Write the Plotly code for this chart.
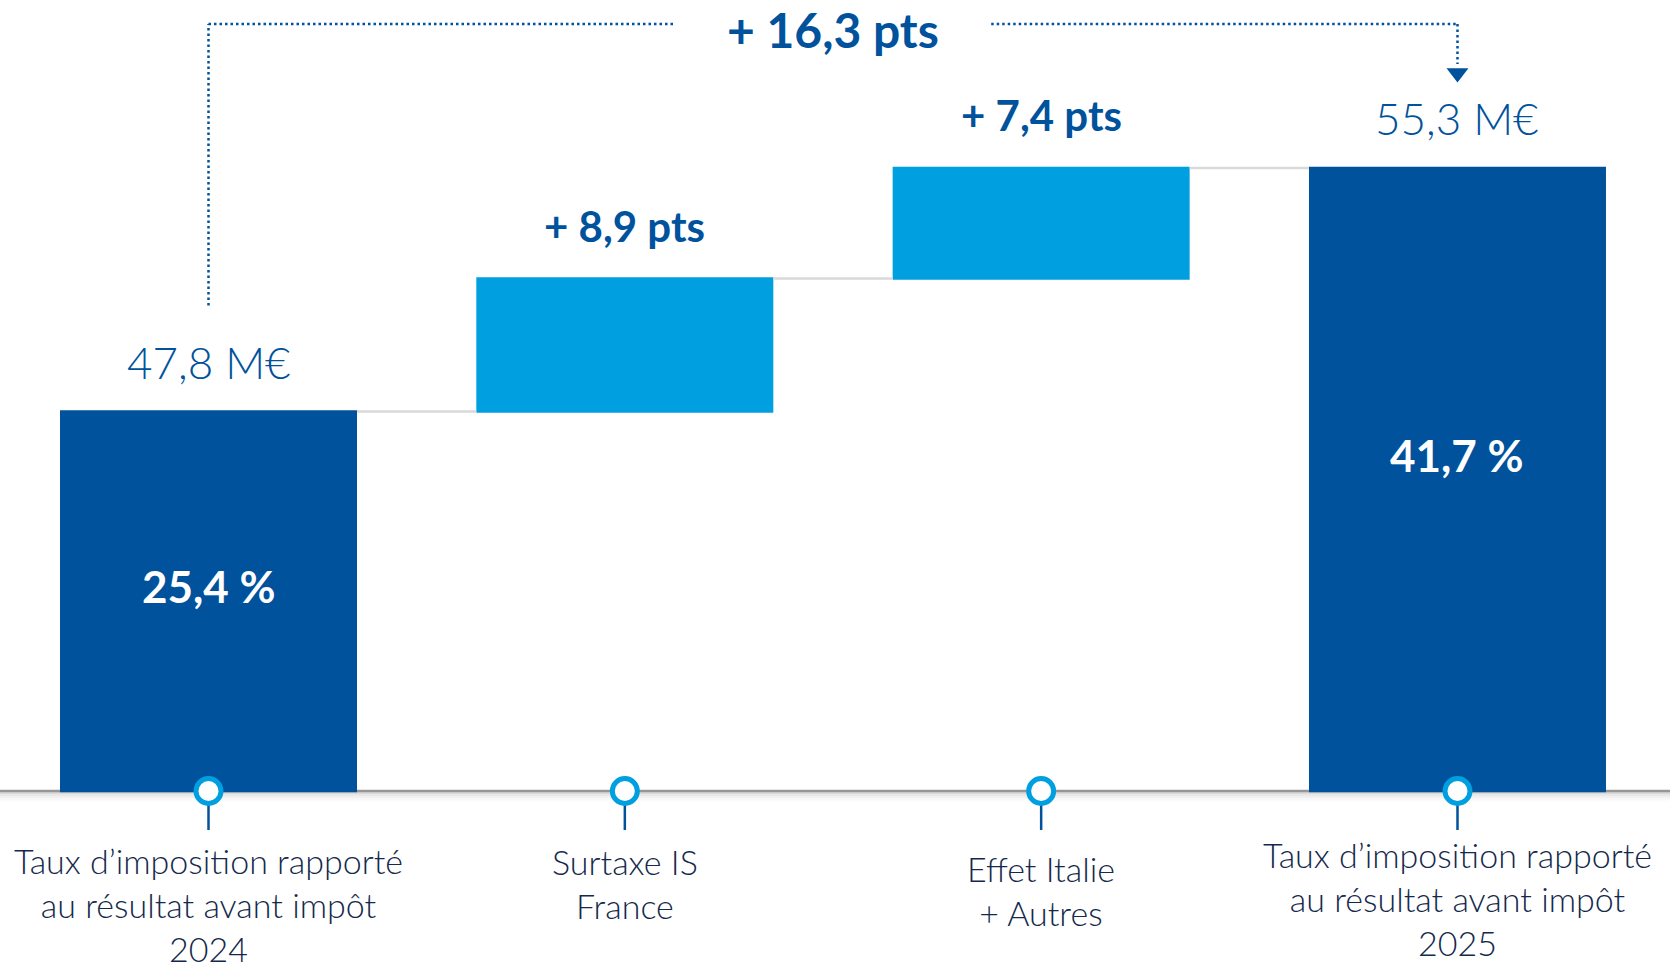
import plotly.graph_objects as go

# ---- data ----
categories = [
    "Taux d’imposition rapporté<br>au résultat avant impôt<br>2024",
    "Surtaxe IS<br>France",
    "Effet Italie<br>+ Autres",
    "Taux d’imposition rapporté<br>au résultat avant impôt<br>2025",
]
values = [25.4, 8.9, 7.4, 41.7]
measures = ["absolute", "relative", "relative", "absolute"]
value_labels = ["25,4 %", "+ 8,9 pts", "+ 7,4 pts", "41,7 %"]
amount_labels = ["47,8 M€", "", "", "55,3 M€"]
total_change_label = "+ 16,3 pts"

# ---- style ----
DARK = "#00529c"
LIGHT = "#009fe0"
NAVY = "#14294b"
FONT = "Lato"
PX = 14.94            # pixels per data unit (y)
XPX = 416.33          # pixels per category (x)
label_shift = [8, 7, 0, 14]   # small vertical offsets of category labels (px, upward)

xs = list(range(len(values)))
tops = []
run = 0
for v, m in zip(values, measures):
    run = v if m == "absolute" else run + v
    tops.append(run)

fig = go.Figure()

fig.add_trace(go.Waterfall(
    x=xs, y=values, measure=measures,
    width=0.7134,
    totals=dict(marker=dict(color=DARK)),
    increasing=dict(marker=dict(color=LIGHT)),
    decreasing=dict(marker=dict(color=LIGHT)),
    connector=dict(mode="between", line=dict(color="#d9d9d9", width=2.5)),
    hoverinfo="skip", showlegend=False,
))

# stems below the axis markers
sx, sy = [], []
for x in xs:
    sx += [x, x, None]
    sy += [0, -39 / PX, None]
fig.add_trace(go.Scatter(x=sx, y=sy, mode="lines", line=dict(color=DARK, width=2.5),
                         hoverinfo="skip", showlegend=False))
# circle markers on axis
fig.add_trace(go.Scatter(x=xs, y=[0] * len(xs), mode="markers",
                         marker=dict(symbol="circle", size=25, color="white",
                                     line=dict(color=LIGHT, width=5)),
                         hoverinfo="skip", showlegend=False))

# axis baseline + shadow
shapes = []
for k, (op, w) in enumerate([(1.0, 2.5), (0.35, 2), (0.22, 2), (0.13, 2), (0.07, 2), (0.03, 2)]):
    shapes.append(dict(type="line", xref="paper", x0=0, x1=1, yref="y",
                       y0=-(k * 2) / PX, y1=-(k * 2) / PX, layer="below",
                       line=dict(color=f"rgba(150,150,150,{op})", width=w)))

# bracket (dotted)
bracket_y = tops[-1] + 144 / PX
gap_l = 1.118
gap_r = 1.880
dot = dict(color=DARK, width=2.5, dash="2.5px,3px")
shapes += [
    dict(type="line", x0=0, x1=0, y0=tops[0] + 106 / PX, y1=bracket_y, line=dot),
    dict(type="line", x0=0, x1=gap_l, y0=bracket_y, y1=bracket_y, line=dot),
    dict(type="line", x0=gap_r, x1=xs[-1], y0=bracket_y, y1=bracket_y, line=dot),
    dict(type="line", x0=xs[-1], x1=xs[-1], y0=bracket_y, y1=bracket_y - 40 / PX, line=dot),
]
fig.add_trace(go.Scatter(x=[xs[-1]], y=[bracket_y - 49 / PX], mode="markers",
                         marker=dict(symbol="triangle-down", size=19, color=DARK),
                         hoverinfo="skip", showlegend=False))

annotations = []
annotations.append(dict(x=(gap_l + gap_r) / 2, yref="paper", y=1, text=f"<b>{total_change_label}</b>",
                        showarrow=False, yanchor="top", borderpad=0,
                        font=dict(family=FONT, size=48, color=DARK)))
for i, (x, v, m) in enumerate(zip(xs, values, measures)):
    if m == "absolute":
        annotations.append(dict(x=x, y=v * 0.54, text=f"<b>{value_labels[i]}</b>", showarrow=False,
                                yanchor="middle", font=dict(family=FONT, size=44, color="white")))
        annotations.append(dict(x=x, y=tops[i], text=amount_labels[i], showarrow=False,
                                yanchor="bottom", yshift=22,
                                font=dict(family=FONT, size=44, color=DARK, weight=300)))
    else:
        annotations.append(dict(x=x, y=tops[i], text=f"<b>{value_labels[i]}</b>", showarrow=False,
                                yanchor="bottom", yshift=26,
                                font=dict(family=FONT, size=42, color=DARK)))
    annotations.append(dict(x=x, y=-56 / PX, text=categories[i], showarrow=False,
                            yanchor="top", xanchor="center", yshift=label_shift[i], borderpad=0,
                            font=dict(family=FONT, size=34, color=NAVY, weight=300)))

fig.update_layout(
    width=1670, height=972,
    margin=dict(l=0, r=0, t=0, b=0),
    paper_bgcolor="white", plot_bgcolor="white",
    xaxis=dict(range=[-208.5 / XPX, (1670 - 208.5) / XPX], visible=False, fixedrange=True),
    yaxis=dict(range=[-(972 - 791) / PX, 791 / PX], visible=False, fixedrange=True),
    shapes=shapes, annotations=annotations,
    showlegend=False,
)

fig.write_html("out.html", config={"displayModeBar": False},
               post_script="document.body.style.margin='0';document.body.style.overflow='hidden';")
